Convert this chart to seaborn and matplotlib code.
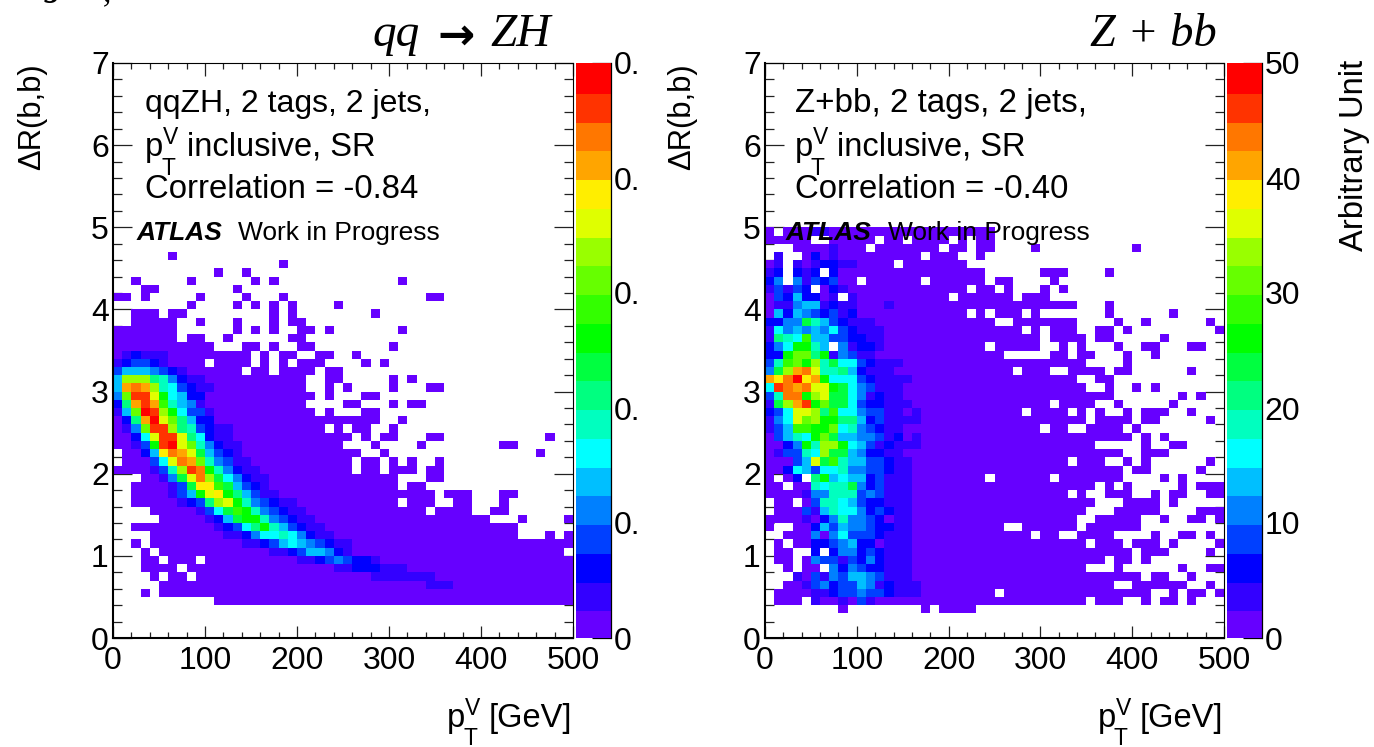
import numpy as np
import pandas as pd
import matplotlib
matplotlib.use("Agg")
import matplotlib.pyplot as plt
from matplotlib.colors import ListedColormap
import seaborn as sns

# colour level of each bin; '.' is an empty bin, 'a'..'t' are the 20 contour levels
LEVELS = "abcdefghijklmnopqrst"
LEVEL_COLORS = ["#6600ff", "#3300ff", "#0000ff", "#0040ff", "#0080ff", "#00bfff", "#00ffff",
                "#00ffbf", "#00ff80", "#00ff40", "#00ff00", "#33ff00", "#66ff00", "#99ff00",
                "#dfff00", "#ffee00", "#ffa500", "#ff7700", "#ff3300", "#ff0000"]

# rows listed from DeltaR bin 4.9-5.0 (first) down to bin 0.0-0.1 (last)
zh_rows = [
"", "", "",
"......a...",
".......... ........a.",
".......... .a..a.....",
"..a.....a. .....a.a.. .......... .a",
"...aa..... ...a......",
"aa.a.....a ....a...a. .......... ....aa",
"........a. ...a.a.a.a ....a.....",
"..aaa.aa.. .......a.a ........a.",
"..aaaaa..a ...a...a.a a.........",
"aaaaaaa... ...a.a.a.. aa.a...... .a",
"aaaaaaa.aa ..a......a a",
"aaaaaaaaaa a...aa.a.. aa........ a",
"abcbbbaaaa aaaaa.a.aa ..aa..a...",
"bcddcbaaaa .aaaa.a.a. aaa....a.a",
"dfffedcbaa aaaa.aa.aa aa.aa.....",
"fnnnihecbb aaaaaaaaaa a..aa..... a.a",
"fqrqnhgdcb baaaaaaaaa a..a.a.... a...aa",
"emssokgfcc aaaaaaaaaa aa.a...aa.",
"ciqsqlhfeb aaaaaaaaaa a....aa... a.aa",
"bfmtsnkgdd baaaaaaaaa aa.a...aa.",
"aciqtomifc caaaaaaaaa aaaaaaaaa. .a",
"abemssnihd cbbaaaaaaa aaa.a.aa.. a",
"aacgossoig cbbaaaaaaa aaaaaa.a.a a...aa.... .......a",
"aabdkstomh ecbbaaaaaa aaaaa...a. ...a...... ..aa",
".aacfprqoj fdcbaaaaaa aaaaaaa..a .......... ......a",
".aaadgorqm hedbbaaaaa aaaaaa.aa. a.a..a",
"aaaabdhnsr khecbbaaaa aaaaaa.aa. aaa.aa",
"...aabejor njgecbbaaa aaaaaaaaaa a...aa",
"..aaaabdjp pljfdcbaaa aaaaaaaaaa a.aa",
"..aaaabdfk opkifdbbaa aaaaaaaaaa aaaaa.aaa. ..aa",
"..aaaaabcd inokhedcbb aaaaaaaaaa a.aaa..aa. ..a",
"....aaaaab dgjlkhedcb baaaaaaaaa aaaa.aaaa. .aa",
".....aaaaa bcfjkkhedc bbaaaaaaaa aaaaaaaaaa a...a....a",
"..aaaaaaaa abcdgikhfd cbbaaaaaaa aaaaaaaaaa aaaa",
"....aaaaaa aabbcegghg ecbbaaaaaa aaaaaaaaaa aaaa...a.a",
"..a.aaaaaa aaaabbcdfg fedcbbaaaa aaaaaaaaaa aaaaaaaaaa",
"...a.aaaaa aaaaaaabbc dffecbaaaa aaaaaaaaaa aaaaaaaaa.",
"...aa.aaa. aaaaaaaaaa bbcdedccba aaaaaaaaaa aaaaaaaaaa",
"...aaaa.aa aaaaaaaaaa aaaabbcccb bbaaaaaaaa aaaaaaaaaa",
"....a.aa.a aaaaaaaaaa aaaaaaaabb bbbbbaaaaa aaaaaaaaaa",
".....aaaaa aaaaaaaaaa aaaaaaaaaa aaaabbbaaa aaaaaaaaaa",
"...a.aaaaa aaaaaaaaaa aaaaaaaaaa aaaaaaaaaa aaaaaaaaaa",
".......... .aaaaaaaaa aaaaaaaaaa aaaaaaaaaa aaaaaaaaaa",
"", "", "", "",
]

zbb_rows = [
"a.aaabbaaa aaaaaaaaaa aaaaa",
"aaaaa..aaa aa.aa.aaaa .a.aa",
"...aaaabaa a.aaaaaaa. aa.aa....a .......... a",
".b..acabaa aaaaaaa.aa a..a",
"ab.babccbb aaaa.aaaaa aa",
"bc.cbc.caa aaaaaaaaaa aaaa...... aaa....a..",
"ce.ebdcdaa .aaaaaa.aa aaaa.aa... .a",
"bdbdc.acba aaaaaaaaaa aa.aa.a... a.a",
"adcfccab.b aaaaaaaaaa .aaaaaa.aa a",
"abbeffbcbb aaabaaaaaa aaaaaaaaaa aaaa...a",
"afcfedcdbc aaaaaaaaaa aa.a.aaa.a .......a.. ....a",
"cceejhfdcb bbaaaaaaaa aaaaa..aaa aaaa....a. .a......a",
"bgefefegdc bbbaaaaaaa aaaaaaaa.a .aaa..aa.a .........a",
"bihglffddc cbbaaaaaaa aaaaaaaaaa .aaaa.aa.. ...a",
"cegkkhf.eb ccbaaaaaaa aaaa.aaaaa ..a.a...a. .aa...aa",
"cckmmikbed bbaaaaaaaa aaaaaa.... .aa.aa...a ..a",
"dhlmknhjgg dcbbbaaaaa aaaaaaaaaa aaaaa....a",
"ejnqrohhif cbbbaaaaaa aaaaaaa.aa a..aaaa.aa ......a",
"qprtpqkggg dcbbbbaaaa aaaaaaaaaa aaaa..aa",
"gsrqrookjg edbbbaaaaa aaaaaaaaaa aaaaa..a.. a.a",
"dhrrknojjg ebcbbaaaaa aaaaaaaaaa aaaaaaaa.. .....a.a",
"bjnqskmjjg dccbbbaaaa aaaaaaaaaa a.aaaa..a. ....a",
"cdgoonilgg eddbbabaaa aaaaaaaa.a aaa.a.a..a .aaa..a",
"begomnkkii fcdbbbbaaa aaaaaaaaaa aaaaa.aaaa .aa.....a",
"bdfllkkmgh edcbbaaaaa aaaaaaaaaa .aa..aaaa. a",
"adfhgkmjff eedbcabaaa aaaaaaaaaa aaaaaaaaaa .a.a",
"aacekhnnkg fdbcbbbaaa aaaaaaaaaa aaaaaa.... .a..aa",
"abddhgnjjf eccbbaaaaa aaaaaaaaaa aaaaaaaaa. .aaa",
"aaadfojlhf fddcbbaaaa aaaaaaaaaa aaa.aaa..a .a......a",
"aacgfdgghe eddcbbaaaa aaaaaaaaaa aaaaaaaaa. aa.....a",
"a.ac.ikfgf fcdbbbaaaa aaaa.aaaaa a.aaaaaaa. ...a.a",
"aa.aahghhj ecdbbbaaaa aaaaaaaaaa aaaaaa.a.a .....a.aaa",
"aaaabeehhh dedbbbaaaa aaaaaaaaaa aaa.a..aaa ..a.aa..aa",
".aa.adhhgf dccbbbaaaa aaaaaaaaaa aaaaaa...a aaa.a",
".aaadbfhgg ecdcbbaaaa aaaaaaaaaa aaaaa...aa aaa....aaa",
"aaaabacehe edcabbaaaa aaaaaaaaaa aaaa..aaaa a..a..aa.a",
"a..aacfdfe edccbbaaaa aaaaaa..aa aaaa.aaaaa a",
"..aaaeaegd ddcbbbaaaa aaaaaaaaa. aa..aaaa.. ..a..aa.a",
".a.aaccdef ccabbbaaaa aaaaaaaaaa aaaaa.aaa. aaa.a....a",
".aa..c.cee cdcbbbaaaa aaaaaaaaaa aaaaaaaaaa .aaa....a",
".aa.aeddbd cecbbbaaaa aaaaaaaaaa aaaaaaa.aa .a",
"..a.aa.ece dccbbbaaaa aaaaaaaaaa aaaaa...a. .....a..aa",
"...badbedf fedbbbaaaa aaaaaaaaaa aaaaaaaaaa a.aa..a",
"..aabdecdd febcbbbaaa aaaaaaaaaa aaaaaaaa.. aaaaaa..a",
".aaaabbcdd eddcbbbaaa aaaaa.aaaa aaaaaaaaaa aa..a.aa.a",
".aaa.baaba dbaaaaaaaa aaaaaaaaaa aaaaa.aaa. .a.aa.a",
"........a. .......a.a aaa",
"", "", "",
]

pt_ticks = [0, 100, 200, 300, 400, 500]
dr_ticks = [0, 1, 2, 3, 4, 5, 6, 7]
zh_cbar_labels = ["0", "0.", "0.", "0.", "0.", "0."]
zbb_cbar_labels = ["0", "10", "20", "30", "40", "50"]
cbar_ticks = [0, 10, 20, 30, 40, 50]

W, H = 1374, 747
SANS = "Liberation Sans"
SERIF = "Liberation Serif"
sns.set_theme(style="white")
plt.rcParams["font.family"] = [SANS, "DejaVu Sans"]


def decode(rows):
    grid = np.full((70, 50), np.nan)
    for offset, row in enumerate(rows):
        groups = row.split()
        assert all(len(g) == 10 for g in groups[:-1]), row
        cells = "".join(groups)
        assert len(cells) <= 50, row
        j = 49 - offset
        for i, c in enumerate(cells):
            if c != ".":
                grid[j, i] = (LEVELS.index(c) + 0.5) * 2.5
    return pd.DataFrame(grid)


fig = plt.figure(figsize=(W / 100, H / 100), dpi=100, facecolor="white")


def box(x0, y0, x1, y1):
    return fig.add_axes([x0 / W, 1 - y1 / H, (x1 - x0) / W, (y1 - y0) / H])


def put(x, y, s, **kw):
    kw.setdefault("fontsize", 23.5)
    kw.setdefault("color", "black")
    kw.setdefault("va", "baseline")
    return fig.text(x / W, 1 - y / H, s, **kw)


cmap = ListedColormap(LEVEL_COLORS)


def panel(rows, x0, x1, cx0, cx1, cbar_labels):
    ax = box(x0, 63, x1, 638)
    cax = box(cx0, 63, cx1, 638)
    sns.heatmap(decode(rows), cmap=cmap, vmin=0, vmax=50, ax=ax, cbar=True, cbar_ax=cax,
                xticklabels=False, yticklabels=False, linewidths=0, rasterized=False)
    ax.set_xlim(0, 50)
    ax.set_ylim(0, 70)
    ax.set_xlabel("")
    ax.set_ylabel("")
    ax.set_facecolor("white")
    ax.set_xticks([v / 10 for v in pt_ticks])
    ax.set_xticklabels([str(v) for v in pt_ticks], fontsize=23)
    ax.set_yticks([v * 10 for v in dr_ticks])
    ax.set_yticklabels([str(v) for v in dr_ticks], fontsize=23)
    ax.set_xticks(np.arange(0, 50.1, 2), minor=True)
    ax.set_yticks(np.arange(0, 70.1, 2), minor=True)
    ax.tick_params(axis="x", which="major", direction="in", top=True, bottom=True, length=9,
                   width=0.9, pad=6, color="#222222", labelcolor="black")
    ax.tick_params(axis="x", which="minor", direction="in", top=True, bottom=True, length=4.5,
                   width=0.9, color="#222222")
    ax.tick_params(axis="y", which="major", direction="in", left=True, right=True, length=13.5,
                   width=0.9, pad=3, color="#222222", labelcolor="black")
    ax.tick_params(axis="y", which="minor", direction="in", left=True, right=True, length=6.5,
                   width=0.9, color="#222222")
    for side, lw in (("left", 1.5), ("bottom", 1.5), ("top", 0.8), ("right", 0.8)):
        ax.spines[side].set_visible(True)
        ax.spines[side].set_linewidth(lw)
        ax.spines[side].set_color("black")
    cbar = ax.collections[0].colorbar
    cbar.set_ticks(cbar_ticks)
    cbar.set_ticklabels(cbar_labels)
    cbar.solids.set_edgecolor("face")
    cax.tick_params(axis="y", which="both", direction="in", right=True, left=False, length=13.5,
                    width=0.9, pad=2, labelsize=23, color="black", labelcolor="black")
    cbar.outline.set_visible(False)
    cax.spines["right"].set_visible(True)
    cax.spines["right"].set_linewidth(0.9)
    cax.spines["right"].set_color("black")
    return ax


panel(zh_rows, 113, 573, 576, 611, zh_cbar_labels)
panel(zbb_rows, 765, 1224, 1227, 1262, zbb_cbar_labels)


def pt_label(x, y, tail):
    put(x, y, "p")
    put(x + 18, y - 12, "V", fontsize=16.5)
    put(x + 16, y + 19, "T", fontsize=16.5)
    put(x + 42, y, tail)


for dx, first, first_size, corr in ((0, "qqZH, 2 tags, 2 jets,", 23, "Correlation = -0.84"),
                                    (650, "Z+bb, 2 tags, 2 jets,", 23.9, "Correlation = -0.40")):
    put(145 + dx, 112, first, fontsize=first_size)
    pt_label(145 + dx, 156, "inclusive, SR")
    put(145 + dx, 198, corr, fontsize=23.7)
    put(137 + dx - (1 if dx else 0), 240, "ATLAS", fontsize=19, fontweight="bold", fontstyle="italic")
    put(238 + dx, 240, "Work in Progress", fontsize=19)
    put(447 + dx + (1 if dx else 0), 727, "p")
    put(465 + dx + (1 if dx else 0), 715, "V", fontsize=16.5)
    put(463 + dx + (1 if dx else 0), 745, "T", fontsize=16.5)
    put(489 + dx + (1 if dx else 0), 727, "[GeV]")
    put(32 + dx, 63, "\u0394R(b,b)", rotation=90, ha="center", va="top", fontsize=22.3)

put(1355, 60, "Arbitrary Unit", rotation=90, ha="center", va="top", fontsize=23.6)

put(372, 46, "qq", family=SERIF, fontstyle="italic", fontsize=34)
put(437, 49, "\u2192", family=["DejaVu Sans"], fontweight="bold", fontsize=32)
put(490, 46, "ZH", family=SERIF, fontstyle="italic", fontsize=34)
put(1090, 46, "Z + bb", family=SERIF, fontstyle="italic", fontsize=33.4)

# clipped remains of a line of text above the picture
put(45, -4, "g", family=SERIF, fontstyle="italic", fontweight="bold", fontsize=24)
put(103, 1, ",", family=SERIF, fontstyle="italic", fontsize=24)

fig.savefig("out.png", dpi=100)
